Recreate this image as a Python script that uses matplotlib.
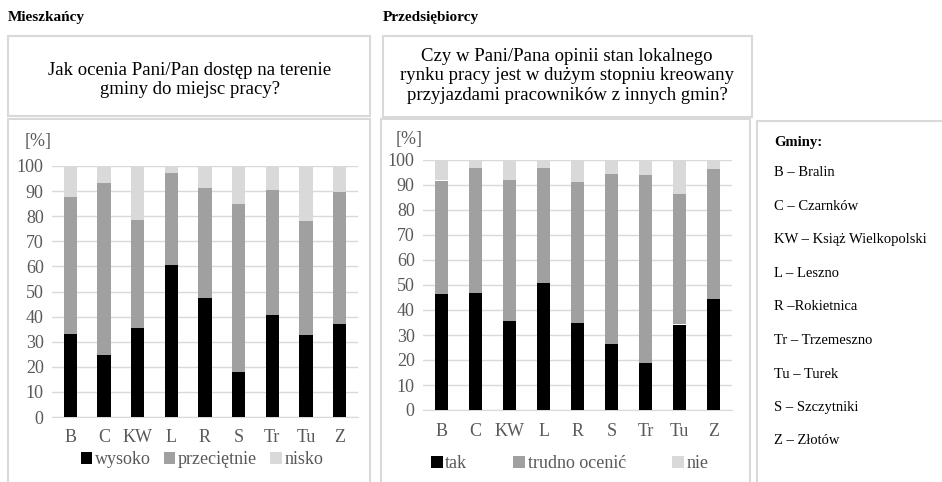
import numpy as np
import matplotlib.pyplot as plt
from matplotlib.patches import Rectangle

plt.rcParams['font.family'] = ['Liberation Serif', 'DejaVu Serif']

# Data
gminy = ["B", "C", "KW", "L", "R", "S", "Tr", "Tu", "Z"]

# Mieszkańcy
wysoko = [32.9, 24.8, 35.3, 60.6, 47.5, 18.0, 40.8, 32.5, 36.9]
przecietnie = [54.9, 68.6, 43.3, 36.7, 43.9, 67.0, 49.5, 45.6, 52.9]
nisko = [12.2, 6.6, 21.4, 2.7, 8.6, 15.0, 9.7, 21.9, 10.2]

# Przedsiębiorcy
tak = [46.5, 46.7, 35.8, 50.9, 35.0, 26.5, 18.8, 34.2, 44.5]
trudno = [45.3, 50.1, 56.0, 45.9, 56.2, 67.9, 75.1, 52.2, 51.9]
nie = [8.2, 3.2, 8.2, 3.2, 8.8, 5.6, 6.1, 13.6, 3.6]

legend_lines = ["B – Bralin", "C – Czarnków", "KW – Książ Wielkopolski", "L – Leszno",
                "R –Rokietnica", "Tr – Trzemeszno", "Tu – Turek", "S – Szczytniki",
                "Z – Złotów"]

W, H = 942, 482
fig = plt.figure(figsize=(W / 100, H / 100), dpi=100)

def fx(x):
    return x / W

def fy(y):
    return 1 - y / H

def box(x0, y0, x1, y1):
    fig.patches.append(Rectangle((fx(x0), fy(y1)), fx(x1) - fx(x0), fy(y0) - fy(y1),
                                 transform=fig.transFigure, fill=False,
                                 edgecolor="#d9d9d9", linewidth=1.5))

def add_ax(x0, y0, x1, y1):
    return fig.add_axes([fx(x0), fy(y1), fx(x1) - fx(x0), fy(y0) - fy(y1)])

cols = ["#000000", "#a0a0a0", "#d9d9d9"]
grey = "#595959"

# panel frames
box(8, 36, 370, 116)
box(8, 119, 370, 490)
box(383, 36, 752, 117)
box(381, 119, 750, 490)
box(757, 121, 945, 490)

fig.text(fx(8), fy(18), "Mieszkańcy", fontsize=11, fontweight="bold", va="center")
fig.text(fx(383), fy(18), "Przedsiębiorcy", fontsize=11, fontweight="bold", va="center")
fig.text(fx(190), fy(80), "Jak ocenia Pani/Pan dostęp na terenie\ngminy do miejsc pracy?",
         fontsize=13.5, ha="center", va="center", linespacing=1.2)
fig.text(fx(567), fy(76), "Czy w Pani/Pana opinii stan lokalnego\nrynku pracy jest w dużym stopniu kreowany\n"
         "przyjazdami pracowników z innych gmin?",
         fontsize=13.5, ha="center", va="center", linespacing=1.2)

def draw(ax, series, labels, colspace, leg_x, leg_y, pct_y):
    x = np.arange(len(gminy))
    bottom = np.zeros(len(gminy))
    for vals, c, lab in zip(series, cols, labels):
        ax.bar(x, vals, 0.4, bottom=bottom, color=c, label=lab, zorder=3)
        bottom += np.array(vals)
    ax.set_ylim(0, 100)
    ax.set_xlim(-0.55, len(gminy) - 0.45)
    ax.set_yticks(range(0, 101, 10))
    ax.set_xticks(x)
    ax.set_xticklabels(gminy)
    ax.grid(axis="y", color="#d9d9d9", linewidth=1, zorder=0)
    for s in ["top", "right", "left"]:
        ax.spines[s].set_visible(False)
    ax.spines["bottom"].set_color("#d9d9d9")
    ax.tick_params(length=0, labelsize=13, colors=grey, pad=6)
    ax.tick_params(axis="x", pad=9)
    ax.legend(loc="center", bbox_to_anchor=(leg_x, leg_y), ncol=3, frameon=False,
              handlelength=0.65, handleheight=0.65, handletextpad=0.15,
              columnspacing=colspace, fontsize=13, labelcolor=grey)
    ax.text(-0.045, pct_y, "[%]", transform=ax.transAxes, fontsize=13, color=grey,
            ha="center", va="center")

ax1 = add_ax(52, 166, 358, 417)
draw(ax1, [wysoko, przecietnie, nisko], ["wysoko", "przeciętnie", "nisko"], 0.7,
     0.49, -0.171, 1.096)

ax2 = add_ax(423, 160, 732, 410)
draw(ax2, [tak, trudno, nie], ["tak", "trudno ocenić", "nie"], 2.55,
     0.475, -0.216, 1.08)

fig.text(fx(774), fy(142), "Gminy:", fontsize=10.5, fontweight="bold", va="center")
for i, t in enumerate(legend_lines):
    fig.text(fx(774), fy(173 + i * 33.5), t, fontsize=10.5, va="center")

fig.savefig("out.png", dpi=100)
